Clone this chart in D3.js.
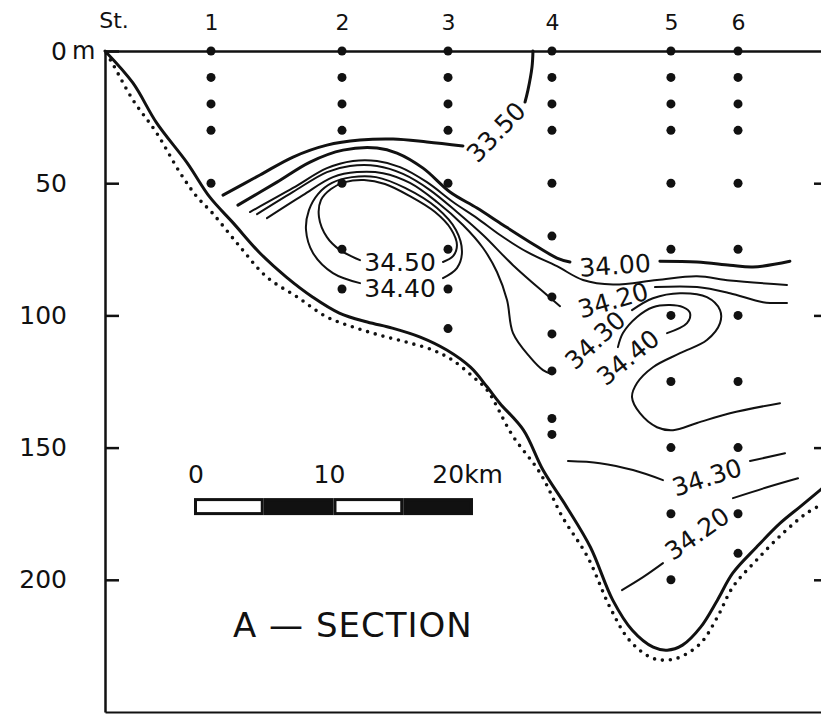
<!DOCTYPE html>
<html>
<head>
<meta charset="utf-8">
<title>A - Section salinity</title>
<script src="https://cdn.jsdelivr.net/npm/d3@7/dist/d3.min.js"></script>
<style>
  body { margin: 0; background: #fff; }
  svg { display: block; font-family: "DejaVu Sans", sans-serif; }
  .iso { fill: none; stroke: #111; stroke-linecap: round; stroke-linejoin: round; }
  .axis .domain, .axis line { stroke: #111; stroke-width: 2.5; }
  .axis text { fill: #111; font-family: "DejaVu Sans", sans-serif; }
</style>
</head>
<body>
<script>
// stations: name, distance from the coast (km), sampling depths (m)
const stationNames = ["1", "2", "3", "4", "5", "6"];
const stationKm = [7.60, 16.99, 24.59, 32.04, 40.57, 45.38];
const stationDepths = [
    [0, 10, 20, 30, 50],
    [0, 10, 20, 30, 50, 75, 90],
    [0, 10, 20, 30, 50, 75, 90, 105],
    [0, 10, 20, 30, 50, 70, 93, 107, 121, 139, 145],
    [0, 10, 20, 30, 50, 75, 100, 125, 150, 175, 200],
    [0, 10, 20, 30, 50, 75, 100, 125, 150, 175, 190]
];
const depthTicks = [0, 50, 100, 150, 200];

// sea bottom [km, m]
const bottomSolid = [[0,0],[2.0,12.1],[3.7,27.2],[5.9,42.4],[7.5,55.2],[9.2,65.1],[11.1,76.4],[13.0,85.5],[14.9,93.1],[16.8,99.1],[18.8,102.5],[20.6,104.8],[22.6,108.2],[24.5,113.1],[26.2,119.6],[27.4,127.1],[28.3,133.2],[30.0,143.4],[31.4,158.5],[33.1,172.5],[34.8,187.7],[36.4,207.7],[37.8,219.1],[39.3,225.5],[40.3,226.6],[41.4,224.7],[42.7,217.9],[43.9,207.7],[45.0,197.5],[46.7,187.7],[48.4,178.6],[49.8,172.5],[51.4,165.5]];
const bottomDotted = [[0.1,0.8],[0.6,5.3],[2.0,18.5],[3.7,31.0],[5.4,46.2],[6.6,55.2],[7.7,61.3],[9.7,74.2],[11.6,85.5],[13.8,93.1],[15.9,100.6],[17.8,104.4],[19.7,107.5],[21.6,110.1],[23.5,113.1],[24.9,116.9],[26.4,123.3],[27.4,128.3],[29.2,145.3],[31.2,159.7],[32.8,176.3],[34.6,191.4],[36.2,210.4],[37.6,222.9],[39.1,229.3],[40.1,230.4],[41.2,229.3],[42.7,224.0],[43.9,214.1],[45.0,202.8],[46.7,192.6],[48.6,182.4],[50.3,174.8],[51.4,171.5]];

// isohalines, each split where its label sits [km, m]
const iso3350a = [[8.46,54.5],[11.11,46.9],[13.48,40.1],[15.91,35.6],[18.28,33.7],[20.65,33.3],[23.08,34.4],[25.66,35.9]];
const iso3350b = [[30.11,19.3],[30.32,14.8],[30.61,6.1],[30.68,0]];
const iso3400a = [[9.53,58.3],[12.33,49.6],[14.70,42.0],[17.06,37.5],[19.50,36.7],[20.93,38.6],[22.80,44.3],[24.73,53.3],[26.67,59.4],[28.53,65.8],[30.47,72.3],[32.40,78.3],[33.33,79.8]];
const iso3400b = [[39.78,79.5],[42.44,79.8],[44.80,81.0],[46.45,81.7],[49.10,79.5]];
const iso3410 = [[10.39,60.9],[13.48,51.8],[15.91,44.3],[17.78,41.6],[19.50,41.6],[21.15,43.9],[23.08,49.6],[24.95,57.1],[26.67,63.2],[28.32,69.6],[30.25,76.0],[32.40,81.4],[34.27,86.6],[36.42,88.3],[39.57,86.6],[42.44,85.2],[44.80,86.8],[48.89,88.5]];
const iso3420a = [[10.90,61.7],[13.48,53.3],[15.91,45.8],[17.56,43.5],[19.50,43.5],[21.36,46.5],[23.30,52.6],[25.23,60.9],[27.10,69.6],[29.25,81.0],[31.68,92.3],[32.62,96.5]];
const iso3420b = [[39.43,89.3],[42.44,89.3],[44.80,91.6],[47.17,95.0],[48.89,95.3]];
const iso3430a = [[11.61,63.2],[14.19,54.5],[16.34,47.7],[18.06,45.8],[19.93,46.2],[21.86,49.9],[23.80,57.1],[25.66,65.8],[27.10,74.5],[28.10,83.6],[28.82,94.2],[29.25,106.7],[30.47,115.8],[31.40,120.7],[32.04,122.2]];
const iso3430b = [[37.78,98.0],[39.28,93.5],[41.22,91.6],[43.15,93.1],[44.09,98.0],[44.09,102.9],[43.15,109.3],[41.22,114.3],[39.28,119.6],[38.14,125.6],[37.78,130.9],[38.35,137.0],[39.57,142.3],[40.72,143.4],[42.44,140.7],[44.80,137.0],[48.39,133.2]];
const iso3440right = [[40.29,106.7],[41.72,102.9],[41.94,99.1],[41.43,96.9],[40.50,96.1],[39.28,96.9],[38.14,100.6],[37.13,106.7],[36.77,112.0]];
const iso3450 = [[18.28,79.1],[16.85,75.3],[15.91,70.4],[15.34,62.8],[15.48,56.4],[16.20,52.2],[17.20,49.6],[18.57,48.8],[20.07,50.3],[21.86,54.9],[23.66,60.9],[24.80,67.3],[25.23,73.4],[24.95,77.6],[24.23,79.8]];
const iso3440left = [[18.28,87.8],[16.34,84.0],[14.91,76.4],[14.41,67.7],[14.62,60.2],[15.27,54.1],[16.27,49.9],[17.71,47.7],[19.43,47.7],[21.51,51.8],[23.80,59.4],[25.16,67.7],[25.59,76.0],[25.23,82.1],[24.23,85.9]];
const iso3430lowA = [[33.19,155.1],[35.48,155.9],[37.85,158.5],[40.00,162.3]];
const iso3430lowB = [[46.24,155.1],[48.75,152.1]];
const iso3420lowA = [[37.06,203.9],[38.57,199.0],[40.00,193.7]];
const iso3420lowB = [[45.02,169.1],[47.46,165.0],[49.68,161.6]];

const contours = [
    { v: 33.50, segs: [iso3350a, iso3350b] },
    { v: 34.00, segs: [iso3400a, iso3400b] },
    { v: 34.10, segs: [iso3410] },
    { v: 34.20, segs: [iso3420a, iso3420b, iso3420lowA, iso3420lowB] },
    { v: 34.30, segs: [iso3430a, iso3430b, iso3430lowA, iso3430lowB] },
    { v: 34.40, segs: [iso3440right, iso3440left] },
    { v: 34.50, segs: [iso3450] }
];

// contour labels: text, km, m, angle
const isoLabels = [
    ["33.50", 28.03, 30.6, -46],
    ["34.00", 36.56, 81.0, -4],
    ["34.20", 36.42, 94.2, -16],
    ["34.30", 35.13, 109.3, -43],
    ["34.40", 37.49, 115.8, -39],
    ["34.50", 21.15, 79.8, 0],
    ["34.40", 21.15, 89.5, 0],
    ["34.30", 43.15, 161.2, -18],
    ["34.20", 42.44, 182.4, -35]
];

// distance scale bar (km)
const scaleStartKm = 6.38;
const scaleSegments = [0, 5, 10, 15];
const scaleLabels = ["0", "10", "20km"];

const width = 821, height = 715;
const x = d3.scaleLinear().domain([0, 51.4]).range([105, 822]);
const y = d3.scaleLinear().domain([0, 250]).range([51, 712]);

const svg = d3.select('body').append('svg')
    .attr('width', width)
    .attr('height', height);

// left depth axis
const yAxis = svg.append('g')
    .attr('class', 'axis')
    .attr('transform', 'translate(' + x(0) + ',0)')
    .call(d3.axisLeft(y).tickValues(depthTicks).tickSize(-14).tickSizeOuter(0).tickPadding(38));
yAxis.selectAll('text').style('font-size', '25px');
yAxis.append('text')
    .attr('x', -33).attr('y', y(0)).attr('dy', '0.32em')
    .attr('text-anchor', 'start')
    .style('font-size', '24px')
    .text('m');

// right side ticks (frame is cut off)
const rAxis = svg.append('g')
    .attr('class', 'axis')
    .attr('transform', 'translate(822,0)')
    .call(d3.axisLeft(y).tickValues([50, 100, 150, 200]).tickSize(8).tickFormat(''));
rAxis.select('.domain').remove();

// stations along the surface
const topAxis = svg.append('g')
    .attr('class', 'axis')
    .attr('transform', 'translate(0,' + y(0) + ')')
    .call(d3.axisTop(x).tickValues(stationKm).tickFormat((d, i) => stationNames[i])
        .tickSize(0).tickSizeOuter(0).tickPadding(21));
topAxis.selectAll('text').style('font-size', '22px');
topAxis.append('text')
    .attr('x', x(0.65)).attr('y', -23)
    .attr('text-anchor', 'middle')
    .style('font-size', '22px')
    .text('St.');

// bottom frame
const bAxis = svg.append('g')
    .attr('class', 'axis')
    .attr('transform', 'translate(0,' + y(250) + ')')
    .call(d3.axisBottom(x).tickValues([]).tickSizeOuter(0));
bAxis.select('.domain').style('stroke-width', 2);

const line = d3.line()
    .x(d => x(d[0]))
    .y(d => y(d[1]))
    .curve(d3.curveCatmullRom.alpha(0.5));

// sea bottom
svg.append('path')
    .attr('class', 'iso')
    .attr('d', line(bottomDotted))
    .style('stroke-width', 3.6)
    .style('stroke-dasharray', '0 8');
svg.append('path')
    .attr('class', 'iso')
    .attr('d', line(bottomSolid))
    .style('stroke-width', 3);

// isohalines
contours.forEach(c => {
    c.segs.forEach(s => {
        svg.append('path')
            .attr('class', 'iso')
            .attr('d', line(s))
            .style('stroke-width', c.v <= 34.0 ? 3 : 2);
    });
});

svg.selectAll('.isolabel')
    .data(isoLabels)
    .enter().append('text')
    .attr('class', 'isolabel')
    .attr('transform', d => 'translate(' + x(d[1]) + ',' + y(d[2]) + ') rotate(' + d[3] + ')')
    .attr('text-anchor', 'middle')
    .attr('dy', '0.36em')
    .style('font-size', '25px')
    .style('fill', '#111')
    .text(d => d[0]);

// sampling points
stationKm.forEach((km, i) => {
    svg.selectAll('.dot' + i)
        .data(stationDepths[i])
        .enter().append('circle')
        .attr('class', 'dot' + i)
        .attr('cx', x(km))
        .attr('cy', d => y(d))
        .attr('r', 4.5)
        .style('fill', '#111');
});

// scale bar
const sbTop = y(169.1), sbH = 17;
const kmPx = x(1) - x(0);
svg.selectAll('.sb')
    .data(scaleSegments)
    .enter().append('rect')
    .attr('class', 'sb')
    .attr('x', d => x(scaleStartKm + d) + 1.5)
    .attr('y', sbTop + 1.5)
    .attr('width', 5 * kmPx - 3)
    .attr('height', sbH - 3)
    .style('fill', (d, i) => i % 2 ? '#111' : '#fff')
    .style('stroke', '#111')
    .style('stroke-width', 3);

svg.selectAll('.sblabel')
    .data(scaleLabels)
    .enter().append('text')
    .attr('class', 'sblabel')
    .attr('x', (d, i) => i === 2 ? x(scaleStartKm + 20) + 30 : x(scaleStartKm + i * 10) + (i ? -4 : 2))
    .attr('y', sbTop - 15)
    .attr('text-anchor', (d, i) => i === 2 ? 'end' : 'middle')
    .style('font-size', '25px')
    .style('fill', '#111')
    .text(d => d);

// section title
svg.append('text')
    .attr('x', x(9.18))
    .attr('y', y(221.7))
    .style('font-size', '34px')
    .style('letter-spacing', '1px')
    .style('fill', '#111')
    .text('A — SECTION');
</script>
</body>
</html>
